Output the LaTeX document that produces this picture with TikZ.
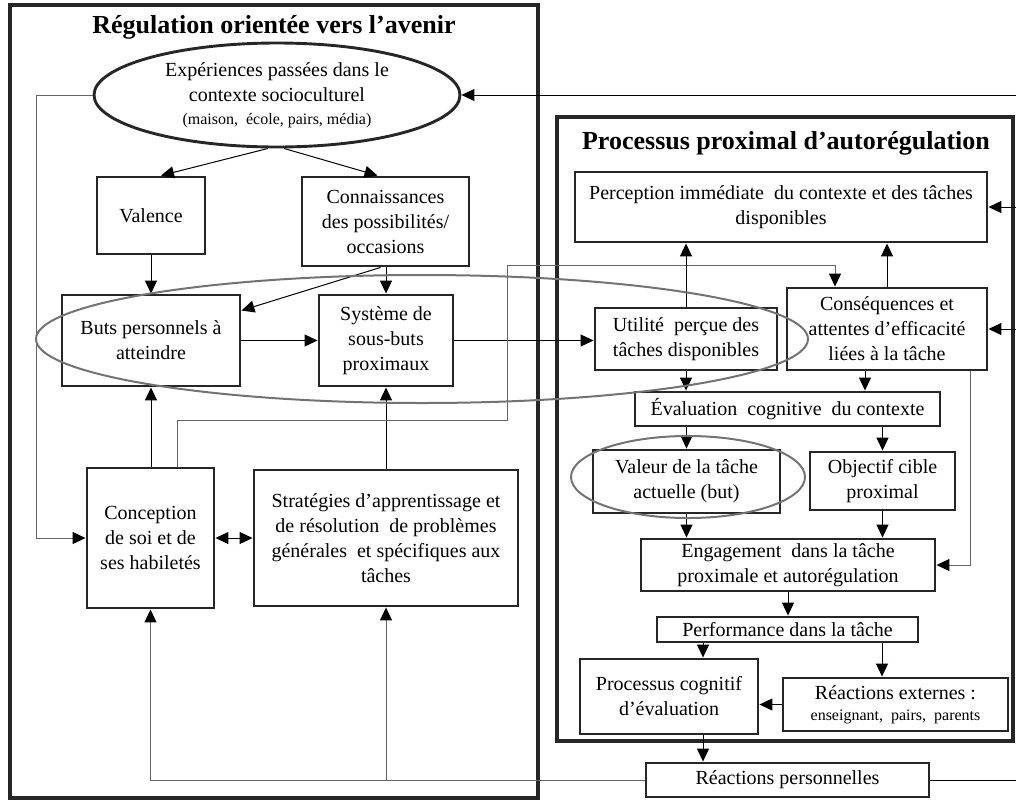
\documentclass[tikz,border=0pt]{standalone}
\usepackage{fontspec}
\setmainfont{Liberation Serif}
\usetikzlibrary{arrows.meta,shapes.geometric,calc}
\newcommand\fsz{\fontsize{20}{25}\selectfont}
\newcommand\fsm{\fontsize{16}{20}\selectfont}
\newcommand\fti{\fontsize{26}{30}\selectfont\bfseries}
\begin{document}
\begin{tikzpicture}[x=1pt,y=-1pt,
  box/.style={draw=black!85, line width=2.9pt, inner sep=0pt, align=center, font=\fsz},
  frame/.style={draw=black!85, line width=3.2pt, inner sep=0pt},
  ttl/.style={inner sep=0pt, font=\fti},
  conn/.style={line width=1pt, -{Triangle[length=13pt,width=12pt]}},
  connG/.style={line width=1pt, draw=black!60, -{Triangle[length=13pt,width=12pt,color=black]}},
  conn2/.style={line width=1pt, {Triangle[length=13pt,width=12pt]}-{Triangle[length=13pt,width=12pt]}},
  hilite/.style={draw=black!55, line width=2pt, ellipse, inner sep=0pt}]
\useasboundingbox (0,0) rectangle (1016,801);
% frames
\node[frame, minimum width=528pt, minimum height=793pt] (frameL) at (274,401.5) {};
\node[frame, line width=4.2pt, minimum width=456pt, minimum height=624pt] (frameR) at (785,429) {};
\node[ttl] (t1) at (274,27) {Régulation orientée vers l’avenir};
\node[ttl] (t2) at (786,143) {Processus proximal d’autorégulation};
% left part
\node[box, ellipse, minimum width=366pt, minimum height=104pt] (exp) at (277,95)
  {\rule{0pt}{14pt}Expériences passées dans le\\contexte socioculturel\\[-2pt]{\fsm (maison,\ \ école, pairs, média)}};
\node[box, minimum width=108pt, minimum height=77pt] (val) at (151,215.5) {Valence};
\node[box, minimum width=167pt, minimum height=89pt] (con) at (385.5,221.5) {Connaissances\\des possibilités/\\occasions};
\node[box, minimum width=178pt, minimum height=91pt] (buts) at (151,340.5) {Buts personnels à\\atteindre};
\node[box, minimum width=134pt, minimum height=91pt] (sys) at (386,340.5) {Système de\\sous-buts\\proximaux};
\node[box, minimum width=127pt, minimum height=140pt] (conc) at (150.5,538) {Conception\\de soi et de\\ses habiletés};
\node[box, minimum width=264pt, minimum height=136pt] (strat) at (386,538) {Stratégies d’apprentissage et\\de résolution\ \ de problèmes\\générales\ \ et spécifiques aux\\tâches};
% right part
\node[box, minimum width=412pt, minimum height=70pt] (perc) at (781,207) {Perception immédiate\ \ du contexte et des tâches\\disponibles};
\node[box, minimum width=182pt, minimum height=62pt] (util) at (686,339) {Utilité\ \ perçue des\\tâches disponibles};
\node[box, minimum width=200pt, minimum height=82pt] (cons) at (887,329) {Conséquences et\\attentes d’efficacité\\liées à la tâche};
\node[box, minimum width=305pt, minimum height=34pt] (eval) at (787.5,409) {Évaluation\ \ cognitive\ \ du contexte};
\node[box, minimum width=187pt, minimum height=63pt] (valeur) at (686.5,481.5) {Valeur de la tâche\\actuelle\ (but)};
\node[box, minimum width=145pt, minimum height=58pt] (obj) at (882.5,481) {Objectif cible\\proximal};
\node[box, minimum width=294pt, minimum height=52pt] (eng) at (788,565) {Engagement\ \ dans la tâche\\proximale et autorégulation};
\node[box, minimum width=261pt, minimum height=25pt] (perf) at (787.5,629.5) {Performance dans la tâche};
\node[box, minimum width=178pt, minimum height=75pt] (proc) at (669,696.5) {Processus cognitif\\d’évaluation};
\node[box, minimum width=225pt, minimum height=53pt] (rext) at (895.5,704.5) {\rule{0pt}{12pt}Réactions externes :\\[-4pt]{\fsm enseignant,\ \ pairs,\ \ parents}};
\node[box, minimum width=283pt, minimum height=34pt] (rperso) at (787.5,780) {Réactions personnelles};
% helper coordinates
\coordinate (lloop) at (36,95);
\coordinate (r1) at (507,420);
\coordinate (r2) at (507,265);
\coordinate (fbtop) at (1022,95);
% connectors (left)
\draw[conn] ([xshift=-9pt]exp.south) -- ([xshift=10pt]val.north);
\draw[conn] ([xshift=7pt]exp.south) -- ([xshift=-8pt]con.north);
\draw[conn] (val.south) -- (val.south |- buts.north);
\draw[conn] (sys.north |- con.south) -- (sys.north);
\draw[conn] ([xshift=-5pt]con.south) -- ([yshift=30pt]buts.east);
\draw[conn] (buts.east) -- (sys.west);
\draw[conn] (sys.east) -- (sys.east -| util.west);
\draw[conn] (buts.south |- conc.north) -- (buts.south);
\draw[conn] (strat.north) -- (strat.north |- sys.south);
\draw[conn2] (conc.east) -- (strat.west);
\draw[connG] (exp.west) -- (lloop) |- (conc.west);
\draw[connG] ([xshift=27pt]conc.north) |- (r1) -- (r2) -| ([xshift=-52pt]cons.north);
% connectors (right)
\draw[conn] (util.north) -- (util.north |- perc.south);
\draw[conn] (cons.north) -- (cons.north |- perc.south);
\draw[conn] (util.south) -- (util.south |- eval.north);
\draw[conn] ([xshift=-22pt]cons.south) -- ([xshift=-22pt]cons.south |- eval.north);
\draw[conn] (valeur.north |- eval.south) -- (valeur.north);
\draw[conn] (obj.north |- eval.south) -- (obj.north);
\draw[conn] (valeur.south) -- (valeur.south |- eng.north);
\draw[conn] (obj.south) -- (obj.south |- eng.north);
\draw[connG] ([xshift=83pt]cons.south) |- (eng.east);
\draw[conn] (eng.south) -- (eng.south |- perf.north);
\draw[conn] ([xshift=34pt]proc.north |- perf.south) -- ([xshift=34pt]proc.north);
\draw[conn] ([xshift=-13.5pt]rext.north |- perf.south) -- ([xshift=-13.5pt]rext.north);
\draw[conn] (rext.west) -- (rext.west -| proc.east);
\draw[conn] ([xshift=34pt]proc.south) -- ([xshift=34pt]proc.south |- rperso.north);
% feedback
\draw[connG] (rperso.west) -| (conc.south);
\draw[connG] (strat.south |- rperso.west) -- (strat.south);
\draw[conn] (rperso.east) -| (fbtop) -- (exp.east);
\draw[conn] (fbtop |- perc.east) -- (perc.east);
\draw[conn] (fbtop |- cons.east) -- (cons.east);
% highlight ellipses
\node[hilite, minimum width=772pt, minimum height=128pt] (hl1) at (422,339) {};
\node[hilite, minimum width=234pt, minimum height=82pt] (hl2) at (688,477) {};
\end{tikzpicture}
\end{document}
